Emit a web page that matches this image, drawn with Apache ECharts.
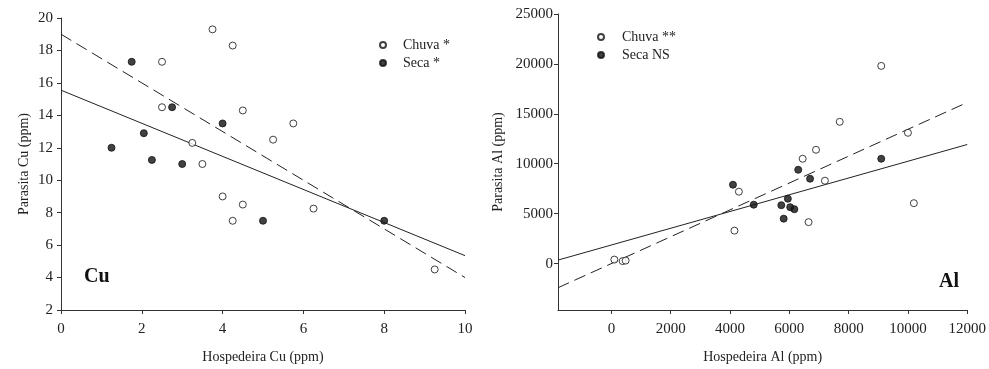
<!DOCTYPE html>
<html>
<head>
<meta charset="utf-8">
<script src="https://cdn.jsdelivr.net/npm/echarts@6/dist/echarts.min.js"></script>
<style>
  html, body { margin: 0; padding: 0; background: #fff; }
  #chart { width: 989px; height: 369px; }
</style>
</head>
<body>
<div id="chart"></div>
<script>
// Cu panel
var cuChuvaX = [3.75, 4.25, 2.5, 2.5, 4.5, 5.75, 5.25, 3.25, 3.5, 4.0, 4.5, 4.25, 6.25, 9.25];
var cuChuvaY = [19.3, 18.3, 17.3, 14.5, 14.3, 13.5, 12.5, 12.3, 11.0, 9.0, 8.5, 7.5, 8.25, 4.5];
var cuSecaX = [1.75, 2.75, 4.0, 2.05, 1.25, 2.25, 3.0, 5.0, 8.0];
var cuSecaY = [17.3, 14.5, 13.5, 12.9, 12.0, 11.25, 11.0, 7.5, 7.5];
// fitted lines: [intercept, slope, xStart, xEnd]
var cuChuvaFit = [19.0, -1.5, 0, 10];
var cuSecaFit = [15.55, -1.02, 0, 10];

// Al panel
var alChuvaX = [100, 380, 480, 4150, 4300, 6450, 6650, 6900, 7200, 7700, 9100, 10000, 10200];
var alChuvaY = [400, 250, 300, 3300, 7200, 10500, 4150, 11400, 8300, 14200, 19800, 13100, 6050];
var alSecaX = [4100, 4800, 6300, 6700, 9100, 5950, 5730, 6030, 6170, 5810];
var alSecaY = [7900, 5900, 9400, 8500, 10500, 6500, 5850, 5650, 5450, 4500];
var alChuvaFit = [0, 1.345, -1800, 11850];
var alSecaFit = [1860, 0.839, -1800, 12000];

var alTicksX = [0, 2000, 4000, 6000, 8000, 10000, 12000];
var alTicksY = [0, 5000, 10000, 15000, 20000, 25000];

function pairs(xs, ys) {
  return xs.map(function (x, i) { return [x, ys[i]]; });
}
function fitLine(f) {
  return [[f[2], f[0] + f[1] * f[2]], [f[3], f[0] + f[1] * f[3]]];
}

var font = 'Liberation Serif';
var axisColor = '#333';
var plain = function (v) { return String(v); };

function axisBase(margin) {
  return {
    axisLine: { show: true, onZero: false, lineStyle: { color: axisColor, width: 1 } },
    axisTick: { show: true, inside: false, length: 4, lineStyle: { color: axisColor } },
    axisLabel: { color: '#222', fontFamily: font, fontSize: 15, margin: margin, formatter: plain },
    splitLine: { show: false },
    nameTextStyle: { color: '#222', fontFamily: font, fontSize: 14 }
  };
}

var openStyle = { color: '#fff', borderColor: '#111', borderWidth: 1 };
var fillStyle = { color: '#111', borderColor: '#111', borderWidth: 1 };

var myChart = echarts.init(document.getElementById('chart'));
var option = {
  backgroundColor: '#fff',
  animation: false,
  title: [
    { text: 'Cu', left: 79, top: 262, textStyle: { fontFamily: font, fontSize: 20, fontWeight: 'bold', color: '#111' } },
    { text: 'Al', left: 934, top: 267, textStyle: { fontFamily: font, fontSize: 20, fontWeight: 'bold', color: '#111' } }
  ],
  grid: [
    { left: 61, top: 18, width: 404, height: 292 },
    { left: 558, top: 14, width: 411, height: 297 }
  ],
  legend: [
    {
      data: ['Chuva *', 'Seca *'],
      orient: 'vertical', left: 374, top: 33, itemGap: 4,
      itemWidth: 6, itemHeight: 6,
      textStyle: { fontFamily: font, fontSize: 14, color: '#222', padding: [0, 0, 0, 12] }
    },
    {
      data: ['Chuva **', 'Seca NS'],
      orient: 'vertical', left: 592, top: 25, itemGap: 4,
      itemWidth: 6, itemHeight: 6,
      textStyle: { fontFamily: font, fontSize: 14, color: '#222', padding: [0, 0, 0, 13] }
    }
  ],
  xAxis: [
    Object.assign(axisBase(12), {
      gridIndex: 0, type: 'value', min: 0, max: 10, interval: 2,
      name: 'Hospedeira Cu (ppm)', nameLocation: 'middle', nameGap: 40
    }),
    Object.assign(axisBase(12), {
      gridIndex: 1, type: 'value', min: -1800, max: 12000,
      name: 'Hospedeira Al (ppm)', nameLocation: 'middle', nameGap: 40,
      axisTick: { show: true, length: 4, lineStyle: { color: axisColor }, customValues: alTicksX },
      axisLabel: { color: '#222', fontFamily: font, fontSize: 15, margin: 12, formatter: plain, customValues: alTicksX }
    })
  ],
  yAxis: [
    Object.assign(axisBase(8), {
      gridIndex: 0, type: 'value', min: 2, max: 20, interval: 2,
      name: 'Parasita Cu (ppm)', nameLocation: 'middle', nameGap: 30
    }),
    Object.assign(axisBase(5), {
      gridIndex: 1, type: 'value', min: -4650, max: 25000,
      name: 'Parasita Al (ppm)', nameLocation: 'middle', nameGap: 53,
      axisTick: { show: true, length: 4, lineStyle: { color: axisColor }, customValues: alTicksY },
      axisLabel: { color: '#222', fontFamily: font, fontSize: 15, margin: 5, formatter: plain, customValues: alTicksY }
    })
  ],
  series: [
    {
      name: 'Chuva *', type: 'scatter', xAxisIndex: 0, yAxisIndex: 0,
      symbol: 'circle', symbolSize: 7, itemStyle: openStyle, z: 5,
      data: pairs(cuChuvaX, cuChuvaY)
    },
    {
      name: 'Seca *', type: 'scatter', xAxisIndex: 0, yAxisIndex: 0,
      symbol: 'circle', symbolSize: 7, itemStyle: fillStyle, z: 5,
      data: pairs(cuSecaX, cuSecaY)
    },
    {
      name: 'cuChuvaFit', type: 'line', xAxisIndex: 0, yAxisIndex: 0,
      symbol: 'none', silent: true,
      lineStyle: { color: '#222', width: 1, type: [12, 6] },
      data: fitLine(cuChuvaFit)
    },
    {
      name: 'cuSecaFit', type: 'line', xAxisIndex: 0, yAxisIndex: 0,
      symbol: 'none', silent: true,
      lineStyle: { color: '#222', width: 1 },
      data: fitLine(cuSecaFit)
    },
    {
      name: 'Chuva **', type: 'scatter', xAxisIndex: 1, yAxisIndex: 1,
      symbol: 'circle', symbolSize: 7, itemStyle: openStyle, z: 5,
      data: pairs(alChuvaX, alChuvaY)
    },
    {
      name: 'Seca NS', type: 'scatter', xAxisIndex: 1, yAxisIndex: 1,
      symbol: 'circle', symbolSize: 7, itemStyle: fillStyle, z: 5,
      data: pairs(alSecaX, alSecaY)
    },
    {
      name: 'alChuvaFit', type: 'line', xAxisIndex: 1, yAxisIndex: 1,
      symbol: 'none', silent: true,
      lineStyle: { color: '#222', width: 1, type: [12, 6] },
      data: fitLine(alChuvaFit)
    },
    {
      name: 'alSecaFit', type: 'line', xAxisIndex: 1, yAxisIndex: 1,
      symbol: 'none', silent: true,
      lineStyle: { color: '#222', width: 1 },
      data: fitLine(alSecaFit)
    }
  ]
};
myChart.setOption(option);
</script>
</body>
</html>
